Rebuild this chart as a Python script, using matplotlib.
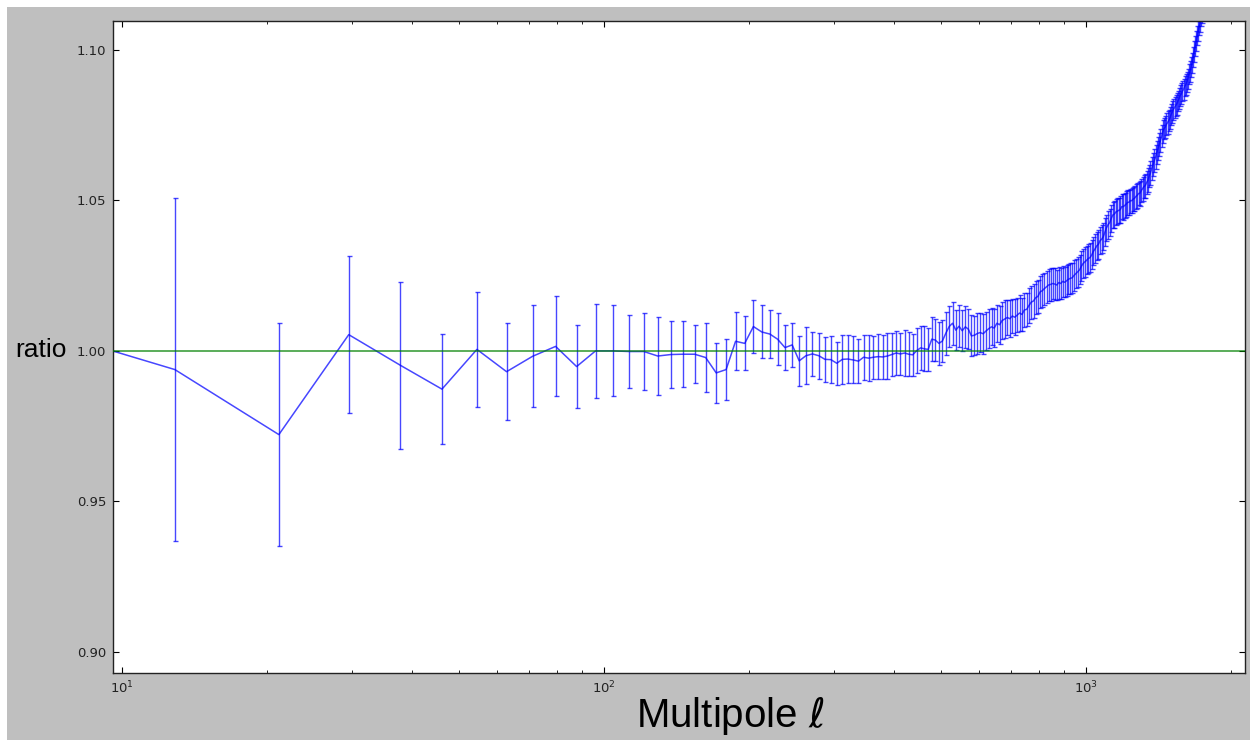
import matplotlib
matplotlib.use("Agg")
import matplotlib.pyplot as plt
from matplotlib.patches import Rectangle
from matplotlib.ticker import FixedLocator, FormatStrFormatter

# ---- data ----
ell = [4.6,
       12.9, 21.2, 29.6, 37.9, 46.2, 54.6, 62.9, 71.2, 79.5, 87.9,
       96.2, 104.5, 112.9, 121.2, 129.5, 137.9, 146.2, 154.5, 162.8, 171.2,
       179.5, 187.8, 196.2, 204.5, 212.8, 221.2, 229.5, 237.8, 246.1, 254.5,
       262.8, 271.1, 279.5, 287.8, 296.1, 304.5, 312.8, 321.1, 329.4, 337.8,
       346.1, 354.4, 362.8, 371.1, 379.4, 387.8, 396.1, 404.4, 412.7, 421.1,
       429.4, 437.7, 446.1, 454.4, 462.7, 471.1, 479.4, 487.7, 496.0, 504.4,
       512.7, 521.0, 529.4, 537.7, 546.0, 554.4, 562.7, 571.0, 579.3, 587.7,
       596.0, 604.3, 612.7, 621.0, 629.3, 637.7, 646.0, 654.3, 662.6, 671.0,
       679.3, 687.6, 696.0, 704.3, 712.6, 721.0, 729.3, 737.6, 745.9, 754.3,
       762.6, 770.9, 779.3, 787.6, 795.9, 804.3, 812.6, 820.9, 829.2, 837.6,
       845.9, 854.2, 862.6, 870.9, 879.2, 887.6, 895.9, 904.2, 912.5, 920.9,
       929.2, 937.5, 945.9, 954.2, 962.5, 970.9, 979.2, 987.5, 995.8, 1004.2,
       1012.5, 1020.8, 1029.2, 1037.5, 1045.8, 1054.2, 1062.5, 1070.8, 1079.1, 1087.5,
       1095.8, 1104.1, 1112.5, 1120.8, 1129.1, 1137.5, 1145.8, 1154.1, 1162.4, 1170.8,
       1179.1, 1187.4, 1195.8, 1204.1, 1212.4, 1220.8, 1229.1, 1237.4, 1245.7, 1254.1,
       1262.4, 1270.7, 1279.1, 1287.4, 1295.7, 1304.1, 1312.4, 1320.7, 1329.0, 1337.4,
       1345.7, 1354.0, 1362.4, 1370.7, 1379.0, 1387.4, 1395.7, 1404.0, 1412.3, 1420.7,
       1429.0, 1437.3, 1445.7, 1454.0, 1462.3, 1470.7, 1479.0, 1487.3, 1495.6, 1504.0,
       1512.3, 1520.6, 1529.0, 1537.3, 1545.6, 1554.0, 1562.3, 1570.6, 1578.9, 1587.3,
       1595.6, 1603.9, 1612.3, 1620.6, 1628.9, 1637.3, 1645.6, 1653.9, 1662.2, 1670.6,
       1678.9, 1687.2, 1695.6, 1703.9, 1712.2, 1720.6, 1728.9, 1737.2, 1745.5, 1753.9]

ratio = [1.0153,
         0.9938, 0.9722, 1.0054, 0.9952, 0.9873, 1.0005, 0.9931, 0.9982, 1.0015, 0.9948,
         1.0000, 1.0000, 0.9998, 0.9998, 0.9983, 0.9988, 0.9989, 0.9989, 0.9978, 0.9927,
         0.9938, 1.0032, 1.0025, 1.0081, 1.0063, 1.0056, 1.0039, 1.0011, 1.0020, 0.9967,
         0.9984, 0.9990, 0.9984, 0.9972, 0.9971, 0.9959, 0.9972, 0.9973, 0.9970, 0.9966,
         0.9979, 0.9976, 0.9979, 0.9981, 0.9980, 0.9983, 0.9988, 0.9993, 0.9990, 0.9993,
         0.9989, 0.9987, 1.0001, 1.0010, 1.0007, 1.0005, 1.0039, 1.0036, 1.0025, 1.0033,
         1.0059, 1.0081, 1.0092, 1.0069, 1.0082, 1.0067, 1.0080, 1.0072, 1.0050, 1.0052,
         1.0058, 1.0061, 1.0057, 1.0066, 1.0074, 1.0080, 1.0076, 1.0092, 1.0087, 1.0101,
         1.0106, 1.0111, 1.0107, 1.0116, 1.0112, 1.0119, 1.0126, 1.0121, 1.0136, 1.0138,
         1.0151, 1.0162, 1.0166, 1.0177, 1.0181, 1.0196, 1.0200, 1.0207, 1.0213, 1.0219,
         1.0221, 1.0224, 1.0222, 1.0219, 1.0227, 1.0224, 1.0231, 1.0228, 1.0233, 1.0238,
         1.0241, 1.0243, 1.0251, 1.0257, 1.0263, 1.0269, 1.0281, 1.0290, 1.0296, 1.0301,
         1.0307, 1.0310, 1.0319, 1.0331, 1.0339, 1.0349, 1.0354, 1.0366, 1.0371, 1.0379,
         1.0394, 1.0409, 1.0419, 1.0426, 1.0439, 1.0451, 1.0454, 1.0461, 1.0464, 1.0467,
         1.0469, 1.0479, 1.0479, 1.0483, 1.0487, 1.0493, 1.0494, 1.0499, 1.0499, 1.0504,
         1.0507, 1.0513, 1.0517, 1.0523, 1.0524, 1.0533, 1.0539, 1.0546, 1.0549, 1.0559,
         1.0567, 1.0581, 1.0591, 1.0606, 1.0619, 1.0633, 1.0644, 1.0659, 1.0671, 1.0686,
         1.0699, 1.0713, 1.0729, 1.0739, 1.0744, 1.0753, 1.0759, 1.0766, 1.0774, 1.0786,
         1.0794, 1.0803, 1.0809, 1.0816, 1.0821, 1.0831, 1.0839, 1.0849, 1.0854, 1.0863,
         1.0869, 1.0879, 1.0884, 1.0893, 1.0904, 1.0919, 1.0929, 1.0943, 1.0957, 1.0976,
         1.0994, 1.1013, 1.1029, 1.1049, 1.1064, 1.1081, 1.1094, 1.1111, 1.1124, 1.1141]

err = [0.0900,
       0.0571, 0.0371, 0.0261, 0.0278, 0.0182, 0.0192, 0.0162, 0.0169, 0.0166, 0.0137,
       0.0157, 0.0151, 0.0122, 0.0128, 0.0130, 0.0111, 0.0110, 0.0096, 0.0114, 0.0100,
       0.0101, 0.0097, 0.0090, 0.0089, 0.0088, 0.0080, 0.0087, 0.0075, 0.0074, 0.0082,
       0.0094, 0.0073, 0.0077, 0.0074, 0.0078, 0.0071, 0.0081, 0.0080, 0.0078, 0.0074,
       0.0074, 0.0076, 0.0072, 0.0075, 0.0073, 0.0076, 0.0072, 0.0074, 0.0071, 0.0075,
       0.0073, 0.0070, 0.0074, 0.0072, 0.0075, 0.0071, 0.0073, 0.0070, 0.0072, 0.0069,
       0.0071, 0.0068, 0.0072, 0.0067, 0.0070, 0.0068, 0.0069, 0.0066, 0.0068, 0.0065,
       0.0067, 0.0064, 0.0066, 0.0063, 0.0065, 0.0062, 0.0064, 0.0061, 0.0063, 0.0060,
       0.0062, 0.0059, 0.0061, 0.0058, 0.0060, 0.0057, 0.0059, 0.0056, 0.0058, 0.0055,
       0.0057, 0.0055, 0.0056, 0.0054, 0.0056, 0.0053, 0.0055, 0.0053, 0.0054, 0.0052,
       0.0054, 0.0052, 0.0053, 0.0051, 0.0053, 0.0051, 0.0052, 0.0050, 0.0052, 0.0050,
       0.0051, 0.0049, 0.0051, 0.0049, 0.0050, 0.0048, 0.0050, 0.0048, 0.0049, 0.0047,
       0.0049, 0.0047, 0.0048, 0.0046, 0.0048, 0.0046, 0.0047, 0.0045, 0.0047, 0.0045,
       0.0046, 0.0044, 0.0046, 0.0044, 0.0045, 0.0043, 0.0045, 0.0043, 0.0044, 0.0042,
       0.0044, 0.0042, 0.0043, 0.0041, 0.0043, 0.0041, 0.0042, 0.0040, 0.0042, 0.0040,
       0.0041, 0.0040, 0.0041, 0.0039, 0.0041, 0.0039, 0.0040, 0.0039, 0.0040, 0.0038,
       0.0040, 0.0038, 0.0039, 0.0038, 0.0039, 0.0037, 0.0039, 0.0037, 0.0038, 0.0037,
       0.0038, 0.0036, 0.0038, 0.0036, 0.0037, 0.0036, 0.0037, 0.0035, 0.0037, 0.0035,
       0.0036, 0.0035, 0.0036, 0.0034, 0.0036, 0.0034, 0.0035, 0.0034, 0.0035, 0.0034,
       0.0035, 0.0033, 0.0035, 0.0033, 0.0034, 0.0033, 0.0034, 0.0033, 0.0034, 0.0032,
       0.0034, 0.0032, 0.0033, 0.0032, 0.0033, 0.0032, 0.0033, 0.0032, 0.0033, 0.0032]

reference_level = 1.0
y_ticks = [0.90, 0.95, 1.00, 1.05, 1.10]
x_label = r"Multipole $\ell$"
y_label = "ratio"

# ---- figure ----
W, H = 1250, 740
fig = plt.figure(figsize=(W / 100, H / 100), dpi=100, facecolor="#bfbfbf")
# thin white strips along the top and left edges
fig.add_artist(Rectangle((0, 0), 7 / W, 1, transform=fig.transFigure,
                         facecolor="white", edgecolor="none", zorder=-10))
fig.add_artist(Rectangle((0, 1 - 7 / H), 1, 7 / H, transform=fig.transFigure,
                         facecolor="white", edgecolor="none", zorder=-10))

ax = fig.add_axes([113 / W, 1 - 673 / H, (1245 - 113) / W, (673 - 21) / H])
ax.set_facecolor("white")
ax.set_xscale("log")

ax.errorbar(ell, ratio, yerr=err, color="#0000ff", lw=1.1, elinewidth=1.0,
            capsize=1.8, capthick=1.0, alpha=0.72, zorder=2)
ax.axhline(reference_level, color="#008000", lw=1.3, alpha=0.7, zorder=3)

ax.set_xlim(9.6, 2140)
ax.set_ylim(0.893, 1.1096)
ax.yaxis.set_major_locator(FixedLocator(y_ticks))
ax.yaxis.set_major_formatter(FormatStrFormatter("%.2f"))

ax.tick_params(which="both", direction="in", top=True, right=True,
               labelsize=9.5, colors="black", labelcolor="#222222")
ax.tick_params(which="major", length=4, width=0.8, pad=5)
ax.tick_params(which="minor", length=2, width=0.6)
for s in ax.spines.values():
    s.set_linewidth(1.0)
    s.set_color("#222222")

fig.text(15 / W, 1 - 357 / H, y_label, fontsize=19, ha="left", va="baseline",
         family=["Liberation Sans", "DejaVu Sans"])
fig.text(730 / W, 1 - 727 / H, x_label, fontsize=29, ha="center", va="baseline",
         family=["Liberation Sans", "DejaVu Sans"])

fig.savefig("out.png", dpi=100, facecolor=fig.get_facecolor())
